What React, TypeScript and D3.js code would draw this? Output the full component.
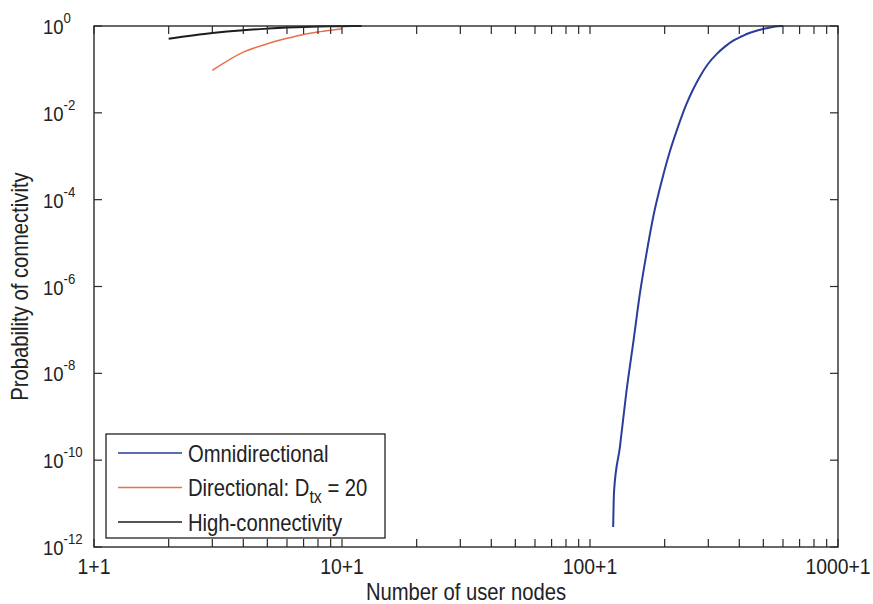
import React from 'react';
import * as d3 from 'd3';

// number of user nodes (x) and probability of connectivity (y)
const omniNodes = [124, 125, 132, 140, 150, 159, 169, 180, 195, 210, 224, 245, 260, 278, 300, 324, 350, 378, 410, 442, 480, 515, 550, 600];
const omniProb = [2.9e-12, 1.9e-11, 2.0e-10, 3.5e-9, 6e-8, 7e-7, 5.8e-6, 4.1e-5, 2.8e-4, 1.3e-3, 4.0e-3, 0.016, 0.034, 0.07, 0.137, 0.225, 0.335, 0.46, 0.58, 0.7, 0.81, 0.89, 0.96, 1.0];

const dirNodes = [3, 4, 5, 6, 7, 8, 9, 10];
const dirProb = [0.095, 0.25, 0.39, 0.52, 0.64, 0.73, 0.8, 0.86];

const highNodes = [2, 3, 4, 5, 6, 7, 8, 9, 10, 11, 12];
const highProb = [0.51, 0.69, 0.8, 0.87, 0.92, 0.95, 0.97, 0.985, 0.993, 0.997, 1.0];

const xTickValues = [1, 10, 100, 1000];
const xTickLabels = ['1+1', '10+1', '100+1', '1000+1'];
const yTickExponents = [0, -2, -4, -6, -8, -10, -12];

const legendLabels = ['Omnidirectional', 'Directional: D', 'High-connectivity'];
const colors = ['#2b3d9c', '#e8714a', '#1c1c1c'];

const margin = { top: 26, right: 35, bottom: 57, left: 94 };
const W = 873;
const H = 604;
const FONT = 'Liberation Sans, Arial, Helvetica, sans-serif';
const SQ = 0.88; // the original font is narrow

const Txt = ({ x, y, size, anchor = 'start', rotate = 0, children }: any) => (
  <text
    transform={`translate(${x},${y}) rotate(${rotate}) scale(${SQ},1)`}
    fontSize={size}
    fontFamily={FONT}
    textAnchor={anchor}
    fill="#222"
  >
    {children}
  </text>
);

const App = () => {
  const width = W - margin.left - margin.right;
  const height = H - margin.top - margin.bottom;

  const x = d3.scaleLog().domain([1, 1000]).range([margin.left, margin.left + width]);
  const y = d3.scaleLog().domain([1e-12, 1]).range([margin.top + height, margin.top]);

  const line = d3
    .line<[number, number]>()
    .x((d) => x(d[0]))
    .y((d) => y(d[1]))
    .curve(d3.curveMonotoneX);

  const series = [
    d3.zip(omniNodes, omniProb) as [number, number][],
    d3.zip(dirNodes, dirProb) as [number, number][],
    d3.zip(highNodes, highProb) as [number, number][],
  ];

  // minor ticks 1..9 per decade
  const xTicksAll: number[] = [];
  for (let e = 0; e < 3; e++) for (let m = 1; m < 10; m++) xTicksAll.push(m * Math.pow(10, e));
  xTicksAll.push(1000);

  const tickLen = 8;
  const x0 = margin.left;
  const x1 = margin.left + width;
  const y0 = margin.top + height;
  const y1 = margin.top;

  const legX = 106;
  const legY = 434;
  const rowY = [453, 487.5, 522];

  return (
    <svg width={W} height={H} style={{ position: 'absolute', left: 0, top: 0, background: '#fff' }}>
      <rect x={0} y={0} width={W} height={H} fill="#fff" />

      {/* data lines */}
      {series.map((s, i) => (
        <path key={i} d={line(s) || ''} fill="none" stroke={colors[i]} strokeWidth={i === 1 ? 1.6 : 2} />
      ))}

      {/* axes box */}
      <rect x={x0} y={y1} width={width} height={height} fill="none" stroke="#2a2a2a" strokeWidth={1.4} />

      {/* x ticks, bottom and top */}
      {xTicksAll.map((t, i) => (
        <g key={'xt' + i} stroke="#2a2a2a" strokeWidth={1.2}>
          <line x1={x(t)} x2={x(t)} y1={y0} y2={y0 - tickLen} />
          <line x1={x(t)} x2={x(t)} y1={y1} y2={y1 + tickLen} />
        </g>
      ))}
      {xTickValues.map((t, i) => (
        <Txt key={'xl' + i} x={x(t)} y={574} size={22} anchor="middle">
          {xTickLabels[i]}
        </Txt>
      ))}

      {/* y ticks, left and right */}
      {yTickExponents.map((e, i) => {
        const yy = y(Math.pow(10, e));
        return (
          <g key={'yt' + i}>
            <line x1={x0} x2={x0 + tickLen} y1={yy} y2={yy} stroke="#2a2a2a" strokeWidth={1.2} />
            <line x1={x1} x2={x1 - tickLen} y1={yy} y2={yy} stroke="#2a2a2a" strokeWidth={1.2} />
            <Txt x={43} y={yy + 8} size={21}>
              10
              <tspan dy={-11} fontSize={15}>
                {e}
              </tspan>
            </Txt>
          </g>
        );
      })}

      {/* axis titles */}
      <Txt x={(x0 + x1) / 2} y={600} size={23} anchor="middle">
        Number of user nodes
      </Txt>
      <Txt x={28} y={(y0 + y1) / 2} size={23} anchor="middle" rotate={-90}>
        Probability of connectivity
      </Txt>

      {/* legend */}
      <rect x={legX} y={legY} width={279} height={104} fill="#fff" stroke="#222" strokeWidth={1.3} />
      {legendLabels.map((lab, i) => (
        <g key={'lg' + i}>
          <line x1={118} x2={182} y1={rowY[i]} y2={rowY[i]} stroke={colors[i]} strokeWidth={1.6} />
          <Txt x={188} y={rowY[i] + 8.5} size={23}>
            {lab}
            {i === 1 && (
              <>
                <tspan dy={7} fontSize={18}>tx</tspan>
                <tspan dy={-7}>{' = 20'}</tspan>
              </>
            )}
          </Txt>
        </g>
      ))}
    </svg>
  );
};

export default App;
